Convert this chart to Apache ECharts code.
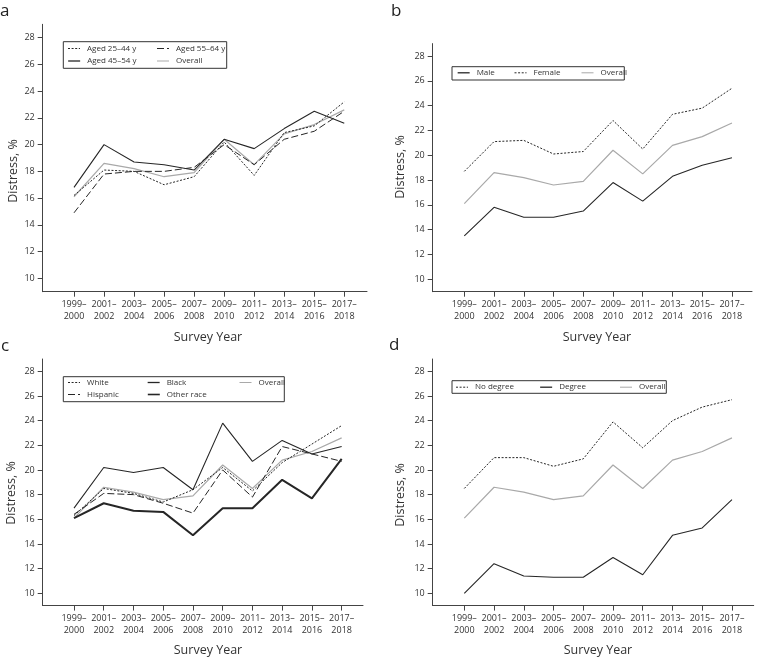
<!DOCTYPE html>
<html>
<head>
<meta charset="utf-8">
<script src="https://cdn.jsdelivr.net/npm/echarts@6/dist/echarts.min.js"></script>
<style>html,body{margin:0;padding:0;background:#fff;}#chart{width:764px;height:657px;}</style>
</head>
<body>
<div id="chart"></div>
<script>
// ---------- data ----------
const categories = ['1999–2000','2001–2002','2003–2004','2005–2006','2007–2008','2009–2010','2011–2012','2013–2014','2015–2016','2017–2018'];
const yTicks = [10, 12, 14, 16, 18, 20, 22, 24, 26, 28];
const overall   = [16.1, 18.6, 18.2, 17.6, 17.9, 20.4, 18.5, 20.8, 21.5, 22.6];
// panel a: age
const aged25_44 = [16.2, 18.1, 18.0, 17.0, 17.6, 20.2, 17.7, 20.9, 21.4, 23.2];
const aged45_54 = [16.8, 20.0, 18.7, 18.5, 18.1, 20.4, 19.7, 21.2, 22.5, 21.6];
const aged55_64 = [14.9, 17.8, 18.0, 18.0, 18.3, 20.0, 18.5, 20.4, 21.0, 22.5];
// panel b: sex
const male   = [13.5, 15.8, 15.0, 15.0, 15.5, 17.8, 16.3, 18.3, 19.2, 19.8];
const female = [18.7, 21.1, 21.2, 20.1, 20.3, 22.8, 20.5, 23.3, 23.8, 25.4];
// panel c: race
const white     = [16.3, 18.5, 18.1, 17.4, 18.4, 20.2, 18.3, 20.6, 22.1, 23.6];
const black     = [16.9, 20.2, 19.8, 20.2, 18.4, 23.8, 20.7, 22.4, 21.3, 21.9];
const hispanic  = [16.4, 18.1, 18.0, 17.3, 16.5, 20.0, 17.8, 21.9, 21.3, 20.7];
const otherRace = [16.1, 17.3, 16.7, 16.6, 14.7, 16.9, 16.9, 19.2, 17.7, 20.9];
// panel d: education
const noDegree = [18.5, 21.0, 21.0, 20.3, 20.9, 23.9, 21.8, 24.0, 25.1, 25.7];
const degree   = [10.0, 12.4, 11.4, 11.3, 11.3, 12.9, 11.5, 14.7, 15.3, 17.6];

// ---------- styling / layout ----------
const FONT = 'Open Sans';
const TXT = '#333';
const BLK = '#262626';
const GRY = '#a9a9a9';
const DOT = [2, 1.6];
const DASH = [7, 3];

// panel geometry: axis line x, right end, top, bottom (px), first category x, spacing
const panels = [
  {ax: 42.7,  right: 367,   top: 24.3, bottom: 291.7, first: 74,    step: 30.03},
  {ax: 432.7, right: 752,   top: 43.6, bottom: 291.7, first: 464.3, step: 29.74},
  {ax: 42.7,  right: 363,   top: 359,  bottom: 605.6, first: 74,    step: 29.74},
  {ax: 432.7, right: 753.7, top: 359,  bottom: 605.6, first: 464.3, step: 29.74}
];

const grids = [], xAxes = [], yAxes = [];
panels.forEach((p, i) => {
  grids.push({left: p.ax, top: p.top, width: p.right - p.ax, height: p.bottom - p.top, containLabel: false, outerBoundsMode: 'none'});
  const xmin = -(p.first - p.ax) / p.step;
  const xmax = xmin + (p.right - p.ax) / p.step;
  xAxes.push({
    type: 'value', gridIndex: i, min: xmin, max: xmax,
    axisLine: {show: true, onZero: false, lineStyle: {color: '#444', width: 1}},
    axisTick: {show: true, length: 5, customValues: categories.map((c, k) => k), lineStyle: {color: '#444'}},
    axisLabel: {customValues: categories.map((c, k) => k), margin: 7, fontFamily: FONT, fontSize: 9, color: TXT, lineHeight: 12,
      formatter: v => { const c = categories[Math.round(v)]; return c ? c.replace('–', '–\n') : ''; }},
    splitLine: {show: false}
  });
  yAxes.push({
    type: 'value', gridIndex: i, min: 9, max: 29,
    axisLine: {show: true, onZero: false, lineStyle: {color: '#444', width: 1}},
    axisTick: {show: true, length: 5, customValues: yTicks, lineStyle: {color: '#444'}},
    axisLabel: {customValues: yTicks, margin: 8, fontFamily: FONT, fontSize: 9, color: TXT},
    splitLine: {show: false}
  });
});

function mk(name, arr, idx, color, width, type) {
  return {
    name, type: 'line', xAxisIndex: idx, yAxisIndex: idx, symbol: 'none', showSymbol: false,
    data: arr.map((v, k) => [k, v]),
    lineStyle: {color, width, type}, itemStyle: {color},
    emphasis: {disabled: true}, silent: true, animation: false, z: 2
  };
}
const series = [
  mk('Overall', overall, 0, GRY, 1.2, 'solid'),
  mk('Aged 25–44 y', aged25_44, 0, BLK, 1, DOT),
  mk('Aged 55–64 y', aged55_64, 0, BLK, 1, DASH),
  mk('Aged 45–54 y', aged45_54, 0, BLK, 1.1, 'solid'),
  mk('Overall', overall, 1, GRY, 1.2, 'solid'),
  mk('Male', male, 1, BLK, 1.1, 'solid'),
  mk('Female', female, 1, BLK, 1, DOT),
  mk('Overall', overall, 2, GRY, 1.2, 'solid'),
  mk('White', white, 2, BLK, 1, DOT),
  mk('Hispanic', hispanic, 2, BLK, 1, DASH),
  mk('Black', black, 2, BLK, 1.1, 'solid'),
  mk('Other race', otherRace, 2, BLK, 2, 'solid'),
  mk('Overall', overall, 3, GRY, 1.2, 'solid'),
  mk('No degree', noDegree, 3, BLK, 1, DOT),
  mk('Degree', degree, 3, BLK, 1.1, 'solid')
];

// legend items: [name, left(px), rowCenterY(px)]
const legendItems = [
  ['Aged 25–44 y', 67.5, 48.5], ['Aged 55–64 y', 156.5, 48.5],
  ['Aged 45–54 y', 67.5, 61], ['Overall', 156.5, 61],
  ['Male', 457, 72.8], ['Female', 514, 72.8], ['Overall', 581, 72.8],
  ['White', 67.5, 382.5], ['Black', 147, 382.5], ['Overall', 239, 382.5],
  ['Hispanic', 67.5, 394.5], ['Other race', 147, 394.5],
  ['No degree', 455.5, 387.2], ['Degree', 539.5, 387.2], ['Overall', 619.5, 387.2]
];
const solidNames = ['Aged 45–54 y', 'Male', 'Black', 'Degree'];
const legends = legendItems.map(([name, left, cy]) => ({
  data: [name], left, top: cy - 5, padding: 0, itemWidth: 12, itemHeight: 10, itemGap: 0,
  selectedMode: false,
  itemStyle: {opacity: 0, color: 'transparent', borderWidth: 0},
  lineStyle: {width: name === 'Other race' ? 1.6 : (solidNames.includes(name) ? 1.3 : 1)},
  textStyle: {fontFamily: FONT, fontSize: 8, color: TXT, lineHeight: 10, padding: [0, 0, 0, 2]}
}));

const boxes = [
  [63.3, 41.7, 226.7, 68.3],
  [452, 66.7, 624.3, 80],
  [63.3, 376.7, 284.3, 401.7],
  [452, 380.7, 666.3, 393.3]
];
const graphic = [];
boxes.forEach(b => graphic.push({type: 'rect', shape: {x: b[0], y: b[1], width: b[2] - b[0], height: b[3] - b[1]},
  style: {fill: 'none', stroke: '#333', lineWidth: 1}, silent: true, z: 10}));
const letters = [['a', 0, 3], ['b', 391, 3], ['c', 1, 338], ['d', 389, 337]];
letters.forEach(([t, x, y]) => graphic.push({type: 'text', left: x, top: y, style: {text: t, font: '17px ' + FONT, fill: '#222'}}));
const xTitles = [[208, 337], [597, 337], [208, 650], [598, 650]];
xTitles.forEach(([x, y]) => graphic.push({type: 'text', x, y, style: {text: 'Survey Year', font: '12.5px ' + FONT, fill: TXT, align: 'center', verticalAlign: 'middle'}}));
const yTitles = [[13, 171], [400, 167], [11, 493], [400, 495]];
yTitles.forEach(([x, y]) => graphic.push({type: 'text', x, y, rotation: Math.PI / 2, style: {text: 'Distress, %', font: '12.5px ' + FONT, fill: TXT, align: 'center', verticalAlign: 'middle'}}));

const chart = echarts.init(document.getElementById('chart'), null, {renderer: 'canvas'});
chart.setOption({
  animation: false,
  backgroundColor: '#fff',
  grid: grids, xAxis: xAxes, yAxis: yAxes,
  legend: legends,
  series, graphic
});
</script>
</body>
</html>
